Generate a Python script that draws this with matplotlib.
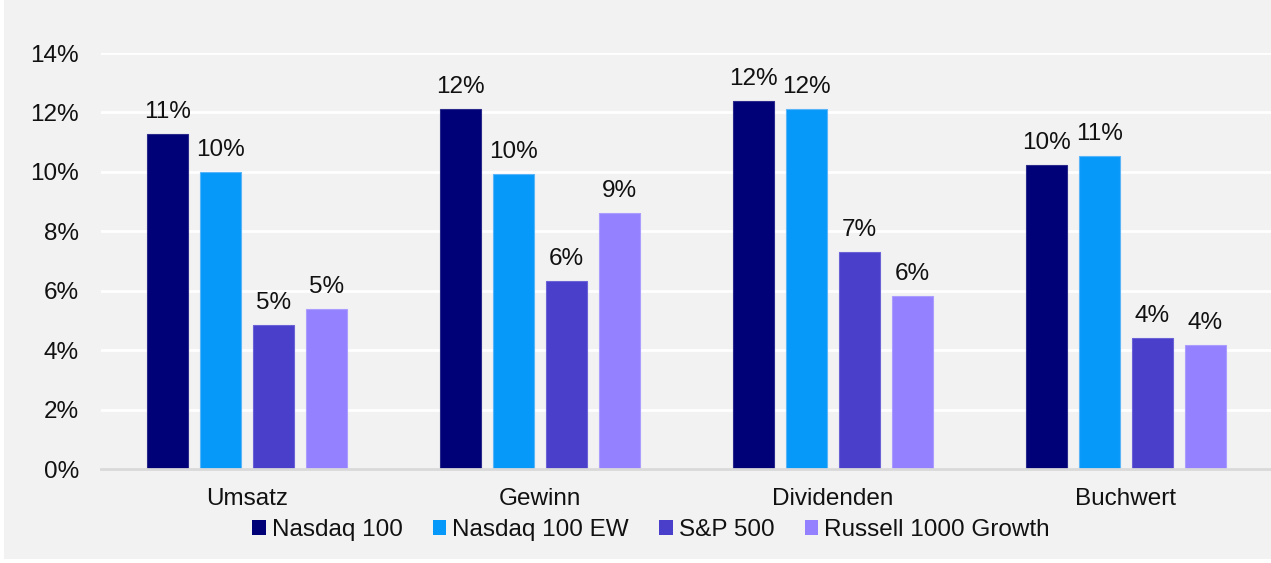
import numpy as np
import matplotlib
matplotlib.use('Agg')
import matplotlib.pyplot as plt
from matplotlib.patches import Rectangle, Patch

plt.rcParams['font.family'] = ['Liberation Sans', 'DejaVu Sans']

# data
categories = ['Umsatz', 'Gewinn', 'Dividenden', 'Buchwert']
series = ['Nasdaq 100', 'Nasdaq 100 EW', 'S&P 500', 'Russell 1000 Growth']
nasdaq100 = [11.28, 12.12, 12.39, 10.24]
nasdaq100_ew = [10.0, 9.93, 12.12, 10.52]
sp500 = [4.85, 6.33, 7.31, 4.40]
russell1000g = [5.39, 8.62, 5.82, 4.18]
colors = ['#000077', '#0799F9', '#4A3FCB', '#9381FF']
edges = ['#2a2a8a', '#5ab4f8', '#6b62d6', '#aa9dff']

values = [nasdaq100, nasdaq100_ew, sp500, russell1000g]

W, H = 1271, 563
fs = 17.5
fig = plt.figure(figsize=(W / 100, H / 100), dpi=100)
fig.patch.set_facecolor('white')
fig.patches.append(Rectangle((4 / W, 4 / H), 1 - 4 / W, 1 - 4 / H,
                             transform=fig.transFigure, facecolor='#f2f2f2',
                             edgecolor='none', zorder=-10))

ax = fig.add_axes([101 / W, (H - 469) / H, (1272 - 101) / W, (469 - 53) / H])
ax.set_facecolor('#f2f2f2')

x = np.arange(len(categories))
step = 0.181
width = 0.14
for i, (vals, c, ec, name) in enumerate(zip(values, colors, edges, series)):
    pos = x + (i - 1.5) * step
    bars = ax.bar(pos, vals, width, color=c, edgecolor=ec, linewidth=0.8,
                  label=name, zorder=3)
    for b, v in zip(bars, vals):
        ax.annotate(f'{v:.0f}%', (b.get_x() + b.get_width() / 2, v),
                    xytext=(0, 8), textcoords='offset points',
                    ha='center', va='bottom', fontsize=fs, color='#111111')

ax.set_xlim(-0.5, 3.5)
ax.set_ylim(0, 14)
ax.set_yticks(np.arange(0, 15, 2))
ax.set_yticklabels([f'{t}%' for t in range(0, 15, 2)])
ax.set_xticks(x)
ax.set_xticklabels(categories)
ax.tick_params(length=0, labelsize=fs, colors='#111111')
ax.tick_params(axis='y', pad=16)
ax.tick_params(axis='x', pad=14)
ax.grid(axis='y', color='white', linewidth=2, zorder=0)
for s in ['top', 'right', 'left']:
    ax.spines[s].set_visible(False)
ax.spines['bottom'].set_color('#d9d9d9')
ax.spines['bottom'].set_linewidth(2)
ax.spines['bottom'].set_zorder(4)

handles = [Patch(facecolor=c, edgecolor='none', label=n) for c, n in zip(colors, series)]
fig.legend(handles=handles, loc='center', bbox_to_anchor=(651 / W, 1 - 530 / H),
           ncol=4, frameon=False, fontsize=fs, handlelength=0.55, handleheight=0.55,
           handletextpad=0.25, columnspacing=1.25, labelcolor='#111111',
           borderpad=0, borderaxespad=0)

fig.savefig('out.png', dpi=100, facecolor=fig.get_facecolor())
